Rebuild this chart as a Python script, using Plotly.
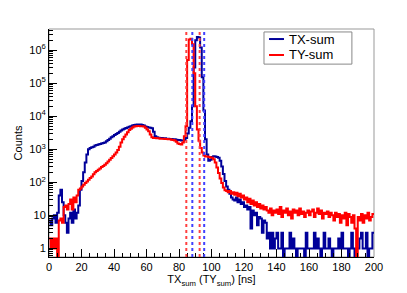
import plotly.graph_objects as go

# ---- data (1 ns bins, 0..200 ns) ----
bin_edges = list(range(0, 201))

tx_counts = [
    7, 5, 8, 10, 6, 12, 40, 60, 25, 10,
    6, 3, 8, 12, 6, 15, 8, 12, 20, 60,
    110, 200, 400, 700, 1000, 1100, 1150, 1200, 1300, 1350,
    1400, 1450, 1500, 1550, 1600, 1750, 1900, 2100, 2300, 2500,
    2700, 2900, 3100, 3400, 3700, 4000, 4200, 4400, 4600, 4800,
    5000, 5200, 5400, 5500, 5600, 5500, 5600, 5400, 5200, 4900,
    4700, 4600, 4500, 4300, 3400, 2500, 2300, 2250, 2200, 2200,
    2150, 2150, 2100, 2100, 2050, 2050, 2000, 2000, 1950, 1900,
    1900, 1850, 1850, 1900, 2200, 3000, 4500, 7000, 20000, 300000,
    2000000, 2500000, 2400000, 1200000, 150000, 15000, 2000, 700, 450, 480,
    580, 620, 600, 580, 550, 450, 300, 180, 110, 75,
    60, 45, 35, 30, 28, 35, 25, 30, 22, 25,
    18, 20, 15, 18, 4, 14, 10, 12, 5, 9,
    8, 3, 7, 6, 2, 3, 1, 3, 1, 2,
    3, 1, 1, 3, 0, 1, 1, 1, 3, 1,
    2, 1, 0, 1, 1, 1, 1, 0, 3, 1,
    1, 1, 1, 3, 1, 2, 1, 0, 1, 3,
    1, 1, 2, 1, 0, 1, 1, 1, 2, 1,
    3, 1, 1, 1, 0, 1, 3, 1, 0, 1,
    1, 2, 3, 1, 1, 3, 0, 1, 1, 3,
]

ty_counts = [
    2, 1, 2, 1, 2, 0, 7, 8, 6, 18,
    20, 15, 22, 30, 15, 35, 25, 40, 60, 65,
    75, 85, 95, 105, 120, 135, 150, 175, 200, 220,
    240, 260, 290, 310, 340, 380, 430, 480, 540, 620,
    700, 800, 950, 1200, 1600, 2000, 2400, 2800, 3300, 3800,
    4200, 4600, 4900, 5000, 5100, 5100, 5000, 5000, 4900, 4500,
    4000, 3500, 2800, 2300, 2200, 2200, 2150, 2150, 2100, 2100,
    2100, 2050, 2050, 2000, 2000, 1950, 1900, 1850, 1700, 1500,
    1450, 1400, 1600, 2500, 5000, 500000, 2100000, 2200000, 1500000, 200000,
    20000, 4000, 1800, 1100, 800, 650, 600, 600, 580, 560,
    550, 500, 400, 280, 190, 130, 95, 70, 58, 55,
    50, 55, 45, 50, 42, 48, 38, 45, 35, 40,
    30, 35, 25, 32, 22, 28, 20, 25, 18, 22,
    16, 20, 15, 18, 14, 12, 16, 10, 14, 12,
    15, 11, 18, 9, 14, 12, 16, 10, 13, 8,
    15, 12, 14, 10, 16, 11, 13, 9, 12, 14,
    10, 13, 15, 9, 12, 16, 11, 14, 8, 12,
    11, 13, 9, 12, 10, 7, 12, 9, 11, 6,
    10, 8, 12, 5, 11, 9, 6, 10, 4, 0,
    9, 7, 11, 6, 10, 8, 12, 7, 9, 11,
]

series_names = ["TX-sum", "TY-sum"]

tx_window = [88.2, 95.5]   # dotted blue window
ty_window = [84.5, 92.7]   # dotted red window

x_ticks = [0, 20, 40, 60, 80, 100, 120, 140, 160, 180, 200]
y_ticks = [1, 10, 100, 1000, 10000, 100000, 1000000]
y_ticklabels = ["1", "10", "10<sup>2</sup>", "10<sup>3</sup>", "10<sup>4</sup>",
                "10<sup>5</sup>", "10<sup>6</sup>"]

assert len(tx_counts) == 200 and len(ty_counts) == 200

BLUE = "#000099"
RED = "#ff0000"
FONT = "Liberation Sans, Arial, Helvetica, sans-serif"


def step_y(vals):
    ys = [v if v > 0 else 0.05 for v in vals]
    return ys + [ys[-1]]


fig = go.Figure()
fig.add_trace(go.Scatter(x=bin_edges, y=step_y(tx_counts), mode="lines",
                         line=dict(color=BLUE, width=2, shape="hv"),
                         name=series_names[0], showlegend=False))
fig.add_trace(go.Scatter(x=bin_edges, y=step_y(ty_counts), mode="lines",
                         line=dict(color=RED, width=2, shape="hv"),
                         name=series_names[1], showlegend=False))

for v in ty_window:
    fig.add_vline(x=v, line=dict(color="#ff4040", width=2, dash="dot"))
for v in tx_window:
    fig.add_vline(x=v, line=dict(color="#4040ff", width=2, dash="dot"))

minor_y = [k * 10 ** e for e in range(-1, 7) for k in range(2, 10)]

# frame
fig.add_shape(type="rect", xref="paper", yref="paper", x0=0, x1=1, y0=0, y1=1,
              line=dict(color="#999999", width=1), layer="below")

# legend box (drawn manually, ROOT style)
fig.add_shape(type="rect", xref="paper", yref="paper", x0=0.6615, x1=0.932,
              y0=0.846, y1=0.987, line=dict(color="#888888", width=1),
              fillcolor="white", layer="above")
for name, col, yy in [(series_names[0], BLUE, 0.956), (series_names[1], RED, 0.886)]:
    fig.add_shape(type="line", xref="paper", yref="paper", x0=0.677, x1=0.723,
                  y0=yy, y1=yy, line=dict(color=col, width=2))
    fig.add_annotation(xref="paper", yref="paper", x=0.732, y=yy, text=name,
                       showarrow=False, xanchor="left", yanchor="middle",
                       font=dict(size=13, color="black"))

fig.update_layout(
    width=399, height=285,
    margin=dict(l=41, r=33, t=21, b=36),
    paper_bgcolor="white", plot_bgcolor="white",
    font=dict(family=FONT, size=11, color="black"),
    showlegend=False,
    xaxis=dict(range=[0, 200], tickmode="array", tickvals=x_ticks,
               ticks="inside", ticklen=8, tickcolor="black",
               minor=dict(dtick=5, ticks="inside", ticklen=4, tickcolor="black"),
               showline=True, linecolor="black", linewidth=1, mirror=False,
               showgrid=False, zeroline=False, automargin=False,
               tickfont=dict(size=11),
               title=dict(text="TX<sub>sum</sub> (TY<sub>sum</sub>) [ns]",
                          font=dict(size=11), standoff=2)),
    yaxis=dict(type="log", range=[-0.26, 6.64], tickmode="array",
               tickvals=y_ticks, ticktext=y_ticklabels,
               ticks="inside", ticklen=8, tickcolor="black",
               minor=dict(tickmode="array", tickvals=minor_y, ticks="inside",
                          ticklen=4, tickcolor="black"),
               showline=True, linecolor="black", linewidth=1, mirror=False,
               showgrid=False, zeroline=False, automargin=False,
               tickfont=dict(size=11),
               title=dict(text="Counts", font=dict(size=11), standoff=4)),
)

fig.write_html("out.html")
